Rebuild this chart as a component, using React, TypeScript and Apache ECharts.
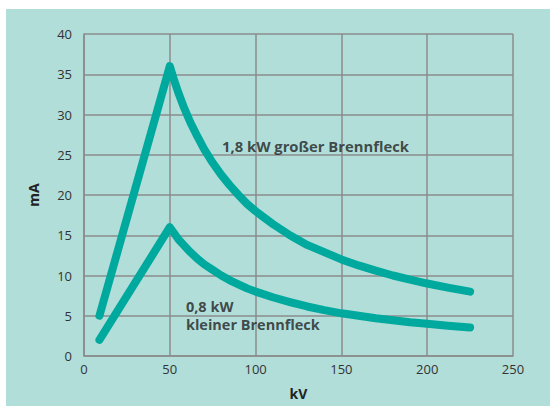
import React, { useEffect, useRef } from "react";
import * as echarts from "echarts";

const upperX = [9, 50, 52, 55, 58, 62, 66, 70, 75, 80, 85, 90, 95, 100, 110, 120, 130, 140, 150, 160, 170, 180, 190, 200, 212, 225];
const upperY = [5, 36, 34.6, 32.7, 31, 29, 27.3, 25.7, 24, 22.5, 21.2, 20, 18.9, 18, 16.4, 15, 13.8, 12.9, 12, 11.25, 10.6, 10, 9.5, 9, 8.5, 8];
const lowerX = [9, 50, 52, 55, 58, 62, 66, 70, 75, 80, 85, 90, 95, 100, 110, 120, 130, 140, 150, 160, 170, 180, 190, 200, 212, 225];
const lowerY = [2, 16, 15.4, 14.5, 13.8, 12.9, 12.1, 11.4, 10.7, 10, 9.4, 8.9, 8.4, 8, 7.3, 6.7, 6.15, 5.7, 5.3, 5, 4.7, 4.45, 4.2, 4, 3.77, 3.55];
const xTicks = [0, 50, 100, 150, 200, 250];
const yTicks = [0, 5, 10, 15, 20, 25, 30, 35, 40];
const label1 = "1,8 kW großer Brennfleck";
const label2a = "0,8 kW";
const label2b = "kleiner Brennfleck";

const LINE = "#00a99d";
const GRIDC = "#8c8c8c";
const FONT = "'Open Sans', 'DejaVu Sans', sans-serif";

export default function App() {
  const ref = useRef<HTMLDivElement>(null);
  useEffect(() => {
    if (!ref.current) return;
    const chart = echarts.init(ref.current, undefined, { renderer: "svg" });
    const pts = (xs: number[], ys: number[]) => xs.map((x, i) => [x, ys[i]]);
    const lbl = (text: string, size: number) => ({
      show: true,
      formatter: text,
      position: "right",
      distance: 0,
      fontFamily: FONT,
      fontWeight: "bold",
      fontSize: size,
      lineHeight: size,
      color: "#222",
    });
    chart.setOption({
      animation: false,
      backgroundColor: "transparent",
      graphic: [
        {
          type: "rect",
          z: -10,
          shape: { x: 6, y: 9, width: 544, height: 397 },
          style: { fill: "#b1ded9" },
          silent: true,
        },
      ],
      grid: { left: 84, right: 37, top: 34, bottom: 50 },
      xAxis: {
        type: "value",
        min: xTicks[0],
        max: xTicks[xTicks.length - 1],
        interval: 50,
        name: "kV",
        nameLocation: "middle",
        nameGap: 30,
        nameTextStyle: { fontFamily: FONT, fontWeight: "bold", fontSize: 14, color: "#222" },
        axisLine: { show: true, lineStyle: { color: GRIDC, width: 1.5 } },
        axisTick: { show: false },
        axisLabel: { fontFamily: FONT, fontSize: 13, color: "#333", margin: 6 },
        splitLine: { show: true, lineStyle: { color: GRIDC, width: 1.5 } },
      },
      yAxis: {
        type: "value",
        min: yTicks[0],
        max: yTicks[yTicks.length - 1],
        interval: 5,
        name: "mA",
        nameLocation: "middle",
        nameRotate: 90,
        nameGap: 44,
        nameTextStyle: { fontFamily: FONT, fontWeight: "bold", fontSize: 14, color: "#222" },
        axisLine: { show: true, lineStyle: { color: GRIDC, width: 1.5 } },
        axisTick: { show: false },
        axisLabel: { fontFamily: FONT, fontSize: 13, color: "#333", margin: 12 },
        splitLine: { show: true, lineStyle: { color: GRIDC, width: 1.5 } },
      },
      series: [
        {
          type: "line",
          data: pts(upperX, upperY),
          showSymbol: false,
          smooth: false,
          lineStyle: { color: LINE, width: 8, cap: "round", join: "round" },
        },
        {
          type: "line",
          data: pts(lowerX, lowerY),
          showSymbol: false,
          smooth: false,
          lineStyle: { color: LINE, width: 8, cap: "round", join: "round" },
        },
        {
          type: "scatter",
          symbolSize: 0,
          silent: true,
          data: [
            { value: [80.4, 26.1], label: lbl(label1, 14.8) },
            { value: [59.4, 6.15], label: lbl(label2a, 14.5) },
            { value: [59.4, 3.95], label: lbl(label2b, 14.5) },
          ],
        },
      ],
    });
    return () => chart.dispose();
  }, []);
  return (
    <div style={{ position: "absolute", left: 0, top: 0, width: 550, height: 406 }}>
      <div ref={ref} style={{ width: 550, height: 406 }} />
    </div>
  );
}
